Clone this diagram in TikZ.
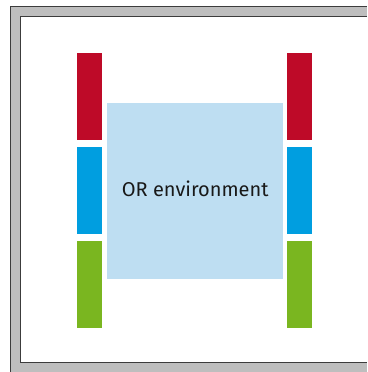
\documentclass[tikz,border=0pt]{standalone}
\usepackage{fontspec}
\setmainfont{Fira Sans}
\definecolor{framegray}{RGB}{190,190,190}
\definecolor{framedark}{RGB}{60,60,60}
\definecolor{barred}{RGB}{190,10,40}
\definecolor{barblue}{RGB}{0,158,224}
\definecolor{bargreen}{RGB}{122,182,32}
\definecolor{orblue}{RGB}{190,222,242}
\tikzset{
  bar/.style={anchor=north west, inner sep=0pt, outer sep=0pt,
    minimum width=25pt, minimum height=87pt},
}
\begin{document}
\begin{tikzpicture}[x=1pt, y=-1pt]
    \useasboundingbox (0,0) rectangle (367,372);
    \fill[white] (0,0) rectangle (367,372);

    % frame
    \fill[framegray] (10,6) rectangle (367,372);
    \fill[white] (20,16) rectangle (367,363);
    \draw[framedark, line width=1pt] (10.5,372) -- (10.5,6.5) -- (367,6.5);
    \draw[framedark, line width=1.2pt] (367,16.6) -- (20.6,16.6) -- (20.6,362.4) -- (367,362.4);

    % left bars
    \node[bar, fill=barred]   (leftred)   at (77,53)  {};
    \node[bar, fill=barblue]  (leftblue)  at (77,147) {};
    \node[bar, fill=bargreen] (leftgreen) at (77,241) {};

    % right bars
    \node[bar, fill=barred]   (rightred)   at (287,53)  {};
    \node[bar, fill=barblue]  (rightblue)  at (287,147) {};
    \node[bar, fill=bargreen] (rightgreen) at (287,241) {};

    % OR environment
    \node[fill=orblue, inner sep=0pt, minimum width=176pt, minimum height=176pt,
      anchor=north west] (orbox) at (107,103) {};
    \node[text=black!90, font=\fontsize{20}{22}\selectfont] (orlabel)
      at ([yshift=2pt]orbox.center) {OR environment};
\end{tikzpicture}
\end{document}
